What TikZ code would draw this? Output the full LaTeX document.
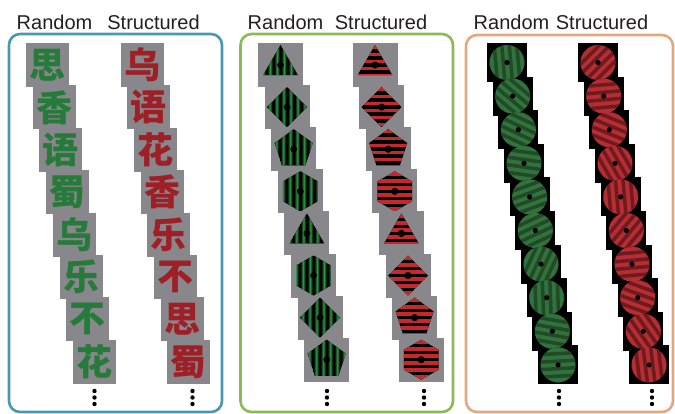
\documentclass[tikz,border=0pt]{standalone}
\usepackage{fontspec}
\setmainfont{Liberation Sans}
\newfontfamily\cjkfont{Noto Sans CJK SC}
\definecolor{tilegray}{RGB}{135,135,140}
\definecolor{cjkgreen}{RGB}{38,122,58}
\definecolor{cjkred}{RGB}{158,32,38}
\definecolor{shgreen}{RGB}{45,150,65}
\definecolor{shred}{RGB}{200,40,45}
\definecolor{grglight}{RGB}{50,115,60}
\definecolor{grgdark}{RGB}{32,74,40}
\definecolor{grrlight}{RGB}{180,46,50}
\definecolor{grrdark}{RGB}{112,26,32}
\definecolor{fblue}{RGB}{72,152,178}
\definecolor{fgreen}{RGB}{138,186,84}
\definecolor{forange}{RGB}{226,168,128}
\definecolor{headtext}{RGB}{35,31,32}
\begin{document}
\begin{tikzpicture}[x=1pt,y=-1pt,
  frame/.style={line width=2.6pt, rounded corners=11pt},
  head/.style={font=\fontsize{20}{20}\selectfont, text=headtext, anchor=base, inner sep=0pt},
  chartile/.style={fill=tilegray, minimum width=43pt, minimum height=44pt, inner sep=0pt,
     font=\cjkfont\bfseries\fontsize{36}{36}\selectfont},
  shapetile/.style={fill=tilegray, minimum width=45pt, minimum height=44pt, inner sep=0pt},
  gtile/.style={fill=black, minimum width=40pt, minimum height=39pt, inner sep=0pt},
  ellip/.style={fill=black}
]
\useasboundingbox (0,0) rectangle (675,413);
% frames
\draw[frame, fblue] (9,34) rectangle (222,412);
\draw[frame, fgreen] (240.5,34) rectangle (453,412);
\draw[frame, forange] (466,35) rectangle (673,412);
% headers
\node[head] (h1r) at (54.5,29.5) {Random};
\node[head] (h1s) at (153.5,29.5) {Structured};
\node[head] (h2r) at (285.5,29.5) {Random};
\node[head] (h2s) at (381,29.5) {Structured};
\node[head] (h3r) at (511.5,29.5) {Random};
\node[head] (h3s) at (602,29.5) {Structured};
% panel 1
\foreach \c [count=\i from 0] in {思,香,语,蜀,乌,乐,不,花} {
  \node[chartile, text=cjkgreen] (rc\i) at ({47.5+6.7*\i},{65+42.4*\i}) {\c};
}
\foreach \c [count=\i from 0] in {乌,语,花,香,乐,不,思,蜀} {
  \node[chartile, text=cjkred] (sc\i) at ({142+6.7*\i},{65+42.4*\i}) {\c};
}
% panel 2 random
\foreach \n [count=\i from 0] in {3,4,5,6,3,6,4,5} {
  \node[shapetile] (rs\i) at ({280.5+6.6*\i},{65+42.1*\i}) {};
  \pgfmathtruncatemacro\m{\n-1}
  \begin{scope}[shift={(rs\i.center)}]
    \path[clip] (90:20pt) \foreach \k in {1,...,\m} {-- ({90+\k*360/\n}:20pt)} -- cycle;
    \fill[black] (-22,-22) rectangle (22,22);
    \foreach \s in {-3,...,2} {
      \shade[left color=black, right color=black, middle color=shgreen] ({7*\s+0.8},-22) rectangle ({7*\s+6.2},22);
    }
    \fill[black] (0,0) circle (3.4);
  \end{scope}
}
% panel 2 structured
\foreach \n [count=\i from 0] in {3,4,5,6,3,4,5,6} {
  \node[shapetile] (ss\i) at ({375+6.6*\i},{65+42.1*\i}) {};
  \pgfmathtruncatemacro\m{\n-1}
  \begin{scope}[shift={(ss\i.center)}]
    \path[clip] (90:20pt) \foreach \k in {1,...,\m} {-- ({90+\k*360/\n}:20pt)} -- cycle;
    \fill[black] (-22,-22) rectangle (22,22);
    \foreach \s in {-4,...,3} {
      \fill[shred] (-22,{7*\s+1.75}) rectangle (22,{7*\s+5.25});
    }
    \fill[black] (0,0) circle (3.6);
  \end{scope}
}
% panel 3 tiles
\foreach \i in {0,...,9} {
  \node[gtile] (rg\i) at ({507+5.67*\i},{62.5+33.6*\i}) {};
  \node[gtile] (sg\i) at ({598+5.67*\i},{62.5+33.6*\i}) {};
}
% panel 3 gratings random
\foreach \a [count=\i from 0] in {95,-40,-25,-8,20,25,65,92,-10,3} {
  \begin{scope}[shift={(rg\i.center)}, rotate=\a]
    \clip (0,0) circle (17.5);
    \fill[grglight] (-20,-20) rectangle (20,20);
    \foreach \s in {-3,...,2} {
      \fill[grgdark] (-20,{7.5*\s+2}) rectangle (20,{7.5*\s+5.5});
    }
  \end{scope}
  \fill[black] (rg\i.center) circle (2.6);
}
% panel 3 gratings structured
\foreach \a [count=\i from 0] in {45,5,-22,-60,95,50,5,-20,-55,97} {
  \begin{scope}[shift={(sg\i.center)}, rotate=\a]
    \clip (0,0) circle (17.5);
    \fill[grrlight] (-20,-20) rectangle (20,20);
    \foreach \s in {-3,...,2} {
      \fill[grrdark] (-20,{7.5*\s+2}) rectangle (20,{7.5*\s+5.5});
    }
  \end{scope}
  \fill[black] (sg\i.center) circle (2.6);
}
% ellipses
\foreach \x in {94.5,192.5,327,424,559,652} {
  \foreach \y in {391,397.5,404} {
    \fill[ellip] (\x,\y) circle (2.2);
  }
}
\end{tikzpicture}
\end{document}
